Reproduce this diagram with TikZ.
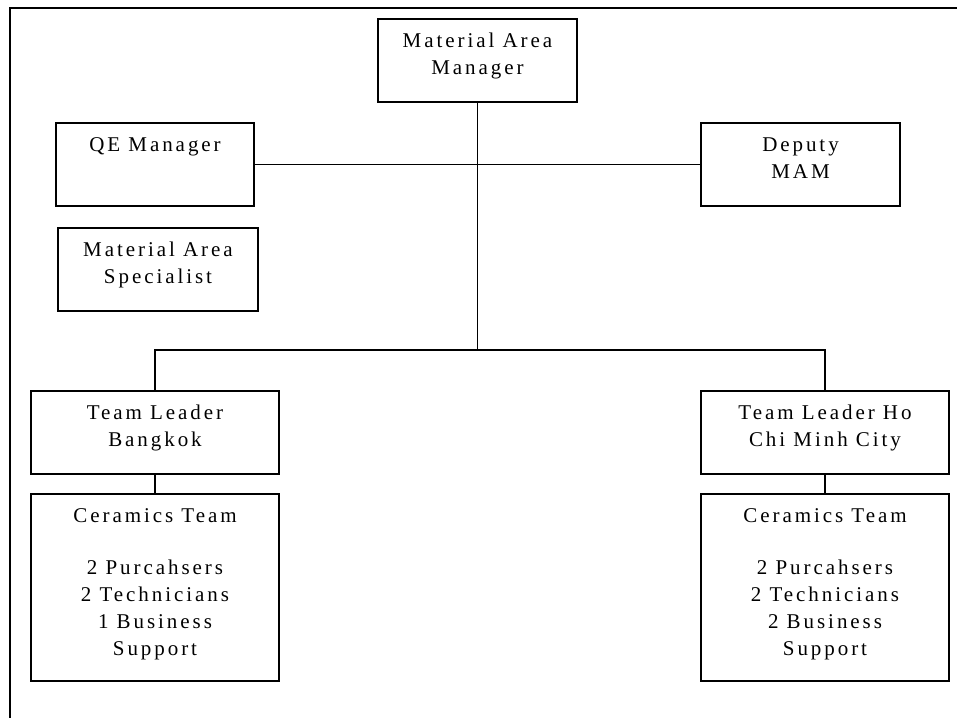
\documentclass[tikz,border=0pt]{standalone}
\usepackage{fontspec}
\setmainfont[LetterSpace=14]{Liberation Serif}
\usepackage{tikz}

% text set at the top of a fixed size box
\newcommand{\toptext}[3]{\parbox[c][#2][t]{#1}{\centering\vspace*{10pt}\strut #3}}

\tikzset{
  unit/.style={draw, line width=1.3pt, inner sep=0pt, font=\fontsize{21}{27}\selectfont},
  link/.style={line width=1.2pt}
}

\begin{document}
\begin{tikzpicture}[x=1pt, y=-1pt]
\useasboundingbox (0,0) rectangle (957,718);
% page frame, top and left only
\draw[line width=1.6pt] (957,8) -- (10,8) -- (10,718);

\node[unit] (mam) at (477.5,60.5) {\toptext{199pt}{83pt}{Material Area\\Manager}};
\node[unit] (qe) at (155,164.5) {\toptext{198pt}{83pt}{QE Manager}};
\node[unit] (deputy) at (800.5,164.5) {\toptext{199pt}{83pt}{Deputy\\MAM}};
\node[unit] (mas) at (158,269.5) {\toptext{200pt}{83pt}{Material Area\\Specialist}};

\node[unit] (tlbkk) at (155,432.5) {\toptext{248pt}{83pt}{Team Leader\\Bangkok}};
\node[unit] (ctbkk) at (155,587.5) {\toptext{248pt}{187pt}{Ceramics Team\\[25pt]2 Purcahsers\\2 Technicians\\1 Business\\Support}};
\node[unit] (tlhcm) at (825,432.5) {\toptext{248pt}{83pt}{Team Leader Ho\\Chi Minh City}};
\node[unit] (cthcm) at (825,587.5) {\toptext{248pt}{187pt}{Ceramics Team\\[25pt]2 Purcahsers\\2 Technicians\\2 Business\\Support}};

% connectors
\draw[link] (mam.south) -- (mam.south |- 0,350) coordinate (split);
\draw[link] (qe.east) -- (deputy.west);
\draw[link] (tlbkk.north) |- (split) -| (tlhcm.north);
\draw[link] (tlbkk.south) -- (ctbkk.north);
\draw[link] (tlhcm.south) -- (cthcm.north);
\end{tikzpicture}
\end{document}
